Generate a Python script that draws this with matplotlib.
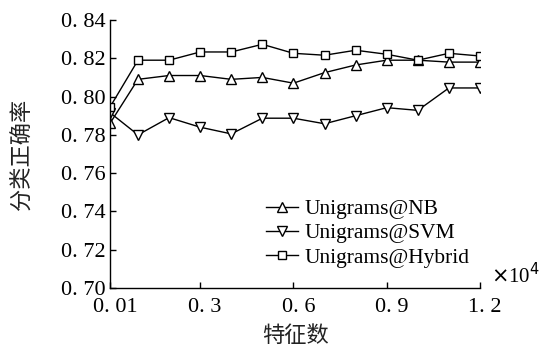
import matplotlib
matplotlib.use("Agg")
import matplotlib.pyplot as plt
from matplotlib.ticker import FixedLocator, FixedFormatter
from matplotlib.transforms import ScaledTranslation

x = [0.01, 0.1, 0.2, 0.3, 0.4, 0.5, 0.6, 0.7, 0.8, 0.9, 1.0, 1.1, 1.2]
nb = [0.786, 0.809, 0.811, 0.811, 0.809, 0.810, 0.807, 0.8125, 0.8165, 0.819, 0.819, 0.818, 0.818]
svm = [0.7916, 0.780, 0.789, 0.784, 0.7805, 0.7887, 0.7887, 0.7858, 0.790, 0.7942, 0.7928, 0.8045, 0.8045]
hybrid = [0.7945, 0.819, 0.819, 0.8233, 0.8233, 0.8273, 0.8226, 0.8216, 0.8242, 0.8221, 0.819, 0.8226, 0.8212]
xticks = [0.01, 0.3, 0.6, 0.9, 1.2]
xticklabels = ["0. 01", "0. 3", "0. 6", "0. 9", "1. 2"]
yticks = [0.70, 0.72, 0.74, 0.76, 0.78, 0.80, 0.82, 0.84]
yticklabels = ["0. 70", "0. 72", "0. 74", "0. 76", "0. 78", "0. 80", "0. 82", "0. 84"]

serif = ["Liberation Serif", "DejaVu Serif"]
cjk = ["Noto Sans CJK SC", "DejaVu Sans"]

W, H = 545, 347
fig = plt.figure(figsize=(W / 100, H / 100), dpi=100)
ax = fig.add_axes([110 / W, 1 - 288 / H, 370 / W, 268 / H])

common = dict(color="black", lw=1.0, markerfacecolor="white", markeredgecolor="black", markeredgewidth=1.0)
ax.plot(x, nb, marker="^", ms=7, label="Unigrams@NB", **common)
ax.plot(x, svm, marker="v", ms=7, label="Unigrams@SVM", **common)
ax.plot(x, hybrid, marker="s", ms=6, label="Unigrams@Hybrid", **common)

ax.set_xlim(0.01, 1.2)
ax.set_ylim(0.70, 0.84)
ax.xaxis.set_major_locator(FixedLocator(xticks))
ax.xaxis.set_major_formatter(FixedFormatter(xticklabels))
ax.yaxis.set_major_locator(FixedLocator(yticks))
ax.yaxis.set_major_formatter(FixedFormatter(yticklabels))

for s in ["top", "right"]:
    ax.spines[s].set_visible(False)
for s in ["left", "bottom"]:
    ax.spines[s].set_linewidth(1.0)
ax.tick_params(direction="in", length=4, width=1.0, labelsize=16)
ax.tick_params(axis="y", pad=3.5)
ax.tick_params(axis="x", pad=7)
off = ScaledTranslation(5 / 100, 0, fig.dpi_scale_trans)
for lab in ax.get_xticklabels():
    lab.set_family(serif)
    lab.set_transform(lab.get_transform() + off)
for lab in ax.get_yticklabels():
    lab.set_family(serif)

leg = ax.legend(loc="upper left", bbox_to_anchor=(266 / W, 1 - 199 / H), bbox_transform=fig.transFigure,
                frameon=False, prop={"family": serif, "size": 15.5}, handlelength=1.5,
                handletextpad=0.3, labelspacing=0.2, borderpad=0.0, borderaxespad=0.0)

fig.text(491 / W, 1 - 283 / H, "$\\times$10$^4$", family=serif, fontsize=15,
         va="baseline", ha="left")

ax.set_ylabel("分类正确率", family=cjk, fontsize=16, labelpad=20, color="#222222")
ax.set_xlabel("特征数", family=cjk, fontsize=16, labelpad=5, color="#222222")

fig.savefig("out.png", dpi=100)
